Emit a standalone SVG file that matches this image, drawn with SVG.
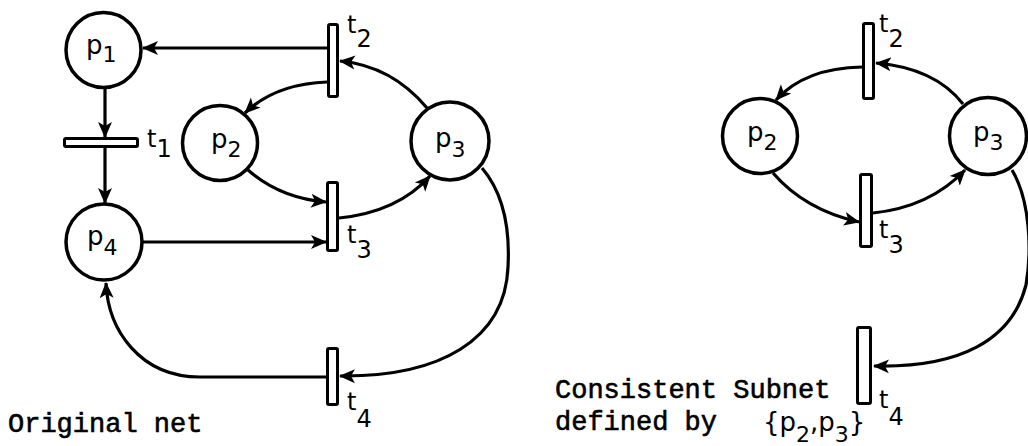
<svg xmlns="http://www.w3.org/2000/svg" width="1028" height="446" viewBox="0 0 1028 446">
<style>
.place{fill:#fff;stroke:#000;stroke-width:3.5}
.trans{fill:#fff;stroke:#000;stroke-width:3}
.arc{fill:none;stroke:#000;stroke-width:3.2}
.lbl{font-family:"DejaVu Sans",sans-serif;font-size:26px;fill:#000}
.sub{font-size:22px}
.tl{font-family:"DejaVu Sans",sans-serif;font-size:24px;fill:#000}
.mono{font-family:"Liberation Mono",monospace;font-size:27px;fill:#000;stroke:#000;stroke-width:0.6}
</style>
<defs>
<marker id="ah" viewBox="0 0 16 16" refX="15" refY="8" markerWidth="16" markerHeight="16" markerUnits="userSpaceOnUse" orient="auto">
<path d="M0,1 L16,8 L0,15 L4,8 z" fill="#000"/>
</marker>
</defs>
<g id="connectors">
<path class="arc" d="M327,48 L143,48" marker-end="url(#ah)"/>
<path class="arc" d="M105,88 L105,137" marker-end="url(#ah)"/>
<path class="arc" d="M105,148 L105,203" marker-end="url(#ah)"/>
<path class="arc" d="M327,82 Q275,84 245,113" marker-end="url(#ah)"/>
<path class="arc" d="M427,108 Q392,66 340,61" marker-end="url(#ah)"/>
<path class="arc" d="M248,170 Q280,198 326,202" marker-end="url(#ah)"/>
<path class="arc" d="M339,218 Q398,212 430,176" marker-end="url(#ah)"/>
<path class="arc" d="M143,242 L326,242" marker-end="url(#ah)"/>
<path class="arc" d="M482,168 C505,195 510,230 508,267 C505,340 440,377 340,376" marker-end="url(#ah)"/>
<path class="arc" d="M326,377 L200,377 C140,377 108,330 106,283" marker-end="url(#ah)"/>
<path class="arc" d="M862,67 Q805,68 776,100" marker-end="url(#ah)"/>
<path class="arc" d="M963,104 Q935,68 876,63" marker-end="url(#ah)"/>
<path class="arc" d="M773,173 Q805,210 859,222" marker-end="url(#ah)"/>
<path class="arc" d="M873,213 Q930,207 965,170" marker-end="url(#ah)"/>
<path class="arc" d="M1012,170 C1030,200 1032,250 1026,285 C1012,340 960,368 874,366" marker-end="url(#ah)"/>
</g>
<g id="p1"><circle class="place" cx="103.5" cy="50" r="37.5"/><text class="lbl" x="86" y="54">p<tspan class="sub" dy="8">1</tspan></text></g>
<g id="p2"><circle class="place" cx="220" cy="143" r="37.5"/><text class="lbl" x="211" y="148">p<tspan class="sub" dy="9">2</tspan></text></g>
<g id="p3"><circle class="place" cx="450" cy="141" r="39"/><text class="lbl" x="435" y="147">p<tspan class="sub" dy="10">3</tspan></text></g>
<g id="p4"><circle class="place" cx="104" cy="242" r="38"/><text class="lbl" x="87" y="245">p<tspan class="sub" dy="10">4</tspan></text></g>
<g id="t1"><rect class="trans" x="64.5" y="138.5" width="73" height="8" rx="1.5"/><text class="tl" x="147" y="147">t<tspan dy="10">1</tspan></text></g>
<g id="t2"><rect class="trans" x="328.5" y="24.5" width="9" height="72" rx="1.5"/><text class="tl" x="347" y="33">t<tspan dy="14">2</tspan></text></g>
<g id="t3"><rect class="trans" x="327.5" y="182.5" width="10" height="68" rx="1.5"/><text class="tl" x="347" y="243">t<tspan dy="15">3</tspan></text></g>
<g id="t4"><rect class="trans" x="327.5" y="348.5" width="10" height="56" rx="1.5"/><text class="tl" x="347" y="410">t<tspan dy="17">4</tspan></text></g>
<g id="label-original"><text class="mono" x="8" y="432">Original net</text></g>
<g id="sp2"><circle class="place" cx="760" cy="136" r="37.5"/><text class="lbl" x="747" y="141">p<tspan class="sub" dy="9">2</tspan></text></g>
<g id="sp3"><circle class="place" cx="988" cy="136" r="38.5"/><text class="lbl" x="973" y="141">p<tspan class="sub" dy="9">3</tspan></text></g>
<g id="st2"><rect class="trans" x="863.5" y="23.5" width="10" height="75" rx="1.5"/><text class="tl" x="879" y="32">t<tspan dy="15">2</tspan></text></g>
<g id="st3"><rect class="trans" x="860.5" y="174.5" width="11" height="72" rx="1.5"/><text class="tl" x="879" y="238">t<tspan dy="15">3</tspan></text></g>
<g id="st4"><rect class="trans" x="857.5" y="327.5" width="13" height="76" rx="1.5"/><text class="tl" x="879" y="408">t<tspan dy="17">4</tspan></text></g>
<g id="label-subnet"><text class="mono" x="555" y="398">Consistent Subnet</text><text class="mono" x="555" y="430">defined by</text><text class="lbl" x="763" y="431">{p<tspan class="sub" dy="11">2</tspan><tspan dy="-11">,p</tspan><tspan class="sub" dy="11">3</tspan><tspan dy="-11">}</tspan></text></g>
</svg>
